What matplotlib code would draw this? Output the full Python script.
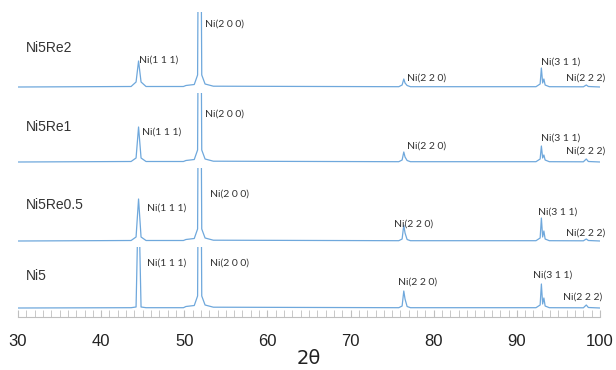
import matplotlib.pyplot as plt
from matplotlib.patches import Rectangle
from matplotlib.ticker import MultipleLocator

two_theta = [30.0, 43.6, 44.2, 44.5, 44.8, 45.4, 49.9, 50.2, 51.2, 51.6, 51.85,
             52.1, 52.5, 53.5, 75.8, 76.2, 76.4, 76.55, 76.8, 77.2, 92.3, 92.8,
             92.95, 93.1, 93.25, 93.4, 93.9, 98.0, 98.35, 98.6, 100.0]

# intensities above each baseline (a.u.)
ni5 = [0, 0.3, 1, 120, 1, 0.3, 0.3, 1.5, 2.5, 12, 400, 12, 3, 0.8, 0.3, 2, 17,
       9, 1.5, 0.3, 0.3, 3, 24, 4, 10, 2, 0.3, 0.2, 3, 0.5, 0]
ni5re05 = [0, 0.5, 4, 42, 4, 0.5, 0.5, 1.5, 2.5, 12, 400, 12, 3, 0.8, 0.3, 2, 16,
           8, 1.5, 0.3, 0.3, 3, 23, 4, 10, 2, 0.3, 0.2, 2, 0.5, 0]
ni5re1 = [0, 0.5, 4, 35, 4, 0.5, 0.5, 1.5, 2.5, 12, 400, 12, 3, 0.8, 0.3, 2, 10,
          5, 1.5, 0.3, 0.3, 3, 16, 4, 7, 2, 0.3, 0.2, 3, 0.5, 0]
ni5re2 = [0, 0.5, 5, 26, 5, 0.5, 0.5, 1.5, 2.5, 12, 400, 12, 3, 0.8, 0.3, 2, 8,
          4, 1.5, 0.3, 0.3, 3, 19, 4, 8, 2, 0.3, 0.2, 2, 0.5, 0]

samples = ["Ni5", "Ni5Re0.5", "Ni5Re1", "Ni5Re2"]
traces = [ni5, ni5re05, ni5re1, ni5re2]
offsets = [9, 76, 155, 230]
clip_heights = [61, 73, 69, 75]

peak_names = ["Ni(1 1 1)", "Ni(2 0 0)", "Ni(2 2 0)", "Ni(3 1 1)", "Ni(2 2 2)"]
# label anchor (x, y above baseline) for each sample
peak_label_pos = [
    [(45.5, 45), (53.1, 45), (75.7, 26), (92.0, 33), (95.6, 11)],
    [(45.5, 33), (53.1, 47), (75.25, 17), (92.6, 29), (95.9, 8)],
    [(44.9, 30), (52.5, 48), (76.8, 16), (92.9, 24), (95.9, 11)],
    [(44.56, 27), (52.5, 63), (76.8, 9), (92.9, 25), (95.9, 9)],
]
sample_label_y = [32, 36, 35, 39]

line_color = "#6FA8DC"
text_color = "#333333"
grey = "#BFBFBF"

fig = plt.figure(figsize=(6.16, 3.70), dpi=100)
ax = fig.add_axes([18 / 616, 53 / 370, 582 / 616, 317 / 370])

for name, y, off, clip, labels, ly in zip(samples, traces, offsets, clip_heights,
                                          peak_label_pos, sample_label_y):
    line, = ax.plot(two_theta, [v + off for v in y], color=line_color, lw=0.9)
    line.set_clip_path(Rectangle((30, 0), 70, off + clip, transform=ax.transData))
    ax.text(31.0, off + ly, name, fontsize=10, family="Liberation Sans",
            color=text_color, va="center", ha="left")
    for pn, (px, py) in zip(peak_names, labels):
        ax.text(px, off + py, pn, fontsize=7.5, family="Lato", color=text_color,
                va="center", ha="left")

ax.set_xlim(30, 100)
ax.set_ylim(0, 317)
ax.set_yticks([])
for s in ["left", "right", "top"]:
    ax.spines[s].set_visible(False)
ax.spines["bottom"].set_color(grey)
ax.xaxis.set_major_locator(MultipleLocator(10))
ax.xaxis.set_minor_locator(MultipleLocator(1))
ax.tick_params(axis="x", which="both", direction="in", length=5, color=grey,
               pad=12)
for lab in ax.get_xticklabels():
    lab.set_fontsize(12)
    lab.set_family("Liberation Sans")
    lab.set_color("#222222")
ax.set_xlabel("2θ", fontsize=14, family="DejaVu Sans", color="#222222",
              labelpad=0)
ax.patch.set_visible(False)

fig.savefig("out.png", dpi=100)
